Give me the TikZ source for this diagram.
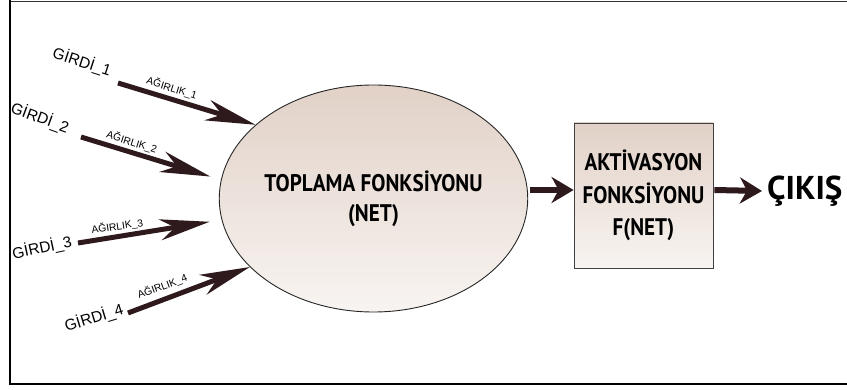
\documentclass[tikz,border=0pt]{standalone}
\usepackage{fontspec}
\setmainfont{Liberation Sans}
\newfontfamily\condfont{PT Sans}[FakeStretch=0.88]
\newfontfamily\outfont{PT Sans}
\usetikzlibrary{arrows.meta,shapes.geometric}
\definecolor{arrowc}{HTML}{2E1A1C}
\definecolor{shadetop}{HTML}{E1D1C7}
\definecolor{shadebot}{HTML}{F8F4F1}
\tikzset{
  inarrow/.style={draw=arrowc, fill=arrowc, line width=5pt, -{Stealth[length=50pt,width=21pt,inset=15pt]}},
  outarrow/.style={draw=arrowc, fill=arrowc, line width=6pt, -{Stealth[length=22pt,width=26pt,inset=7pt]}},
  inlabel/.style={font=\fontsize{15.5}{17}\selectfont, inner sep=0pt},
  wlabel/.style={font=\fontsize{10.3}{11}\selectfont, inner sep=0pt},
  bigtext/.style={font=\condfont\bfseries\fontsize{24}{30}\selectfont, align=center},
}
\begin{document}
\begin{tikzpicture}[x=1pt,y=-1pt]
\useasboundingbox (0,0) rectangle (847,390);
% frame
\draw[line width=1.2pt, black!80] (10,1.2) -- (847,1.2);
\draw[line width=2pt] (10,0.5) -- (10,384.5);
\draw[line width=2.5pt] (9,384) -- (847,384);

% summation ellipse
\node[ellipse, draw=black!85, line width=0.9pt, minimum width=303pt, minimum height=227pt, inner sep=0pt,
      top color=shadetop, bottom color=shadebot, bigtext] (sum) at (373.5,198.5) {TOPLAMA FONKSİYONU\\(NET)};

% activation box
\node[rectangle, draw=black!75, line width=0.8pt, minimum width=139pt, minimum height=145pt, inner sep=0pt,
      top color=shadetop, bottom color=shadebot, font=\condfont\bfseries\fontsize{24}{32.5}\selectfont, align=center]
      (act) at (643.5,195.5) {AKTİVASYON\\FONKSİYONU\\F(NET)};

% output
\node[font=\outfont\bfseries\fontsize{33}{36}\selectfont, anchor=west, inner sep=0pt] (out) at (767,191) {ÇIKIŞ};

% inputs
\coordinate (t1) at (118,83);
\coordinate (t2) at (81,137);
\coordinate (t3) at (78,243);
\coordinate (t4) at (128,313);

\draw[inarrow] (t1) -- (sum.148.8);
\draw[inarrow, shorten >=11pt] (t2) -- (sum.173.4);
\draw[inarrow, shorten >=12pt] (t3) -- (sum.188.7);
\draw[inarrow] (t4) -- (sum.209.4);

\draw[outarrow] ([xshift=2pt,yshift=8.5pt]sum.east) -- ([yshift=5.5pt]act.west);
\draw[outarrow] ([xshift=1pt,yshift=5.5pt]act.east) -- ([xshift=-5pt]out.west);

% labels
\node[inlabel, rotate=-18] (g1) at (82,62) {GİRDİ\_1};
\node[inlabel, rotate=-20] (g2) at (40,118) {GİRDİ\_2};
\node[inlabel, rotate=12] (g3) at (42,248) {GİRDİ\_3};
\node[inlabel, rotate=17] (g4) at (94,318) {GİRDİ\_4};

\node[wlabel, rotate=-17.4] (w1) at (171.7,88.3) {AĞIRLIK\_1};
\node[wlabel, rotate=-17.3] (w2) at (131.7,142.3) {AĞIRLIK\_2};
\node[wlabel, rotate=8.4] (w3) at (117.3,226.7) {AĞIRLIK\_3};
\node[wlabel, rotate=20.3] (w4) at (162.3,286.7) {AĞIRLIK\_4};
\end{tikzpicture}
\end{document}
